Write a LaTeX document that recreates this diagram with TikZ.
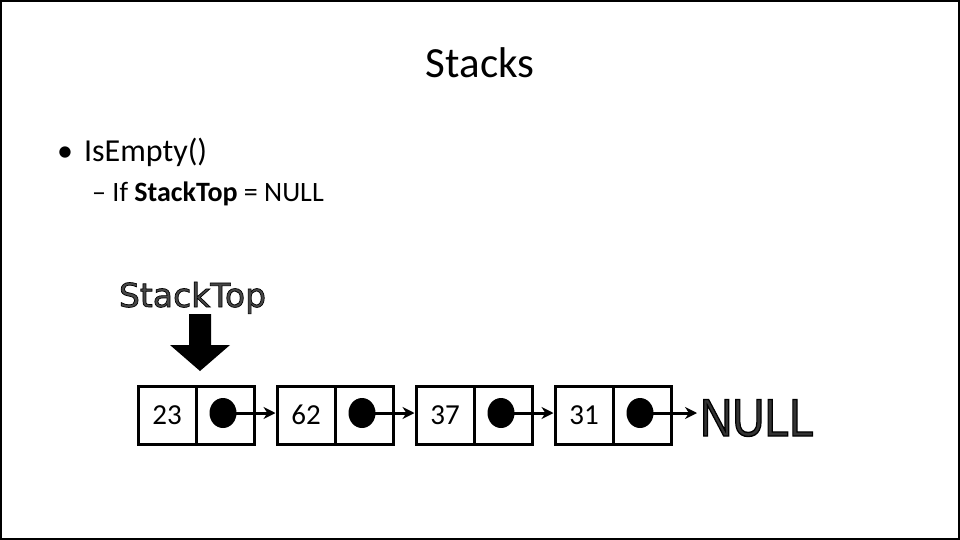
\documentclass[tikz,border=0pt]{standalone}
\usepackage{fontspec}
\setmainfont{Carlito}
\newfontfamily\djv{DejaVu Sans}
\newfontfamily\lib{Liberation Sans}
\usetikzlibrary{arrows.meta,shapes.geometric}
\newcommand\outlinetext[3]{{\special{pdf:literal direct q #2 G #1 w 2 Tr}#3\special{pdf:literal direct 0 Tr Q}}}
\tikzset{
  cellbox/.style={draw=black,line width=3pt,minimum width=58pt,minimum height=58pt,inner sep=0pt,text height=18.3pt,text depth=0pt,font=\fontsize{29}{34}\selectfont},
  dotmark/.style={fill=black,ellipse,minimum width=27pt,minimum height=30pt,inner sep=0pt},
  linkarrow/.style={line width=3pt,-{Stealth[length=12pt,width=12pt]}},
}
\begin{document}
\begin{tikzpicture}[x=1pt,y=-1pt]
\useasboundingbox (0,0) rectangle (960,540);
\draw[line width=2pt] (1,1) rectangle (959,539);
\node[font=\fontsize{43}{48}\selectfont,anchor=base] (title) at (480,78) {Stacks};
\node[font=\fontsize{32}{38}\selectfont,anchor=base west,inner sep=0pt] (b1) at (57,162) {•\hspace{11pt}IsEmpty()};
\node[font=\fontsize{28}{34}\selectfont,anchor=base west,inner sep=0pt] (b2) at (92,201) {– If \textbf{StackTop} = NULL};
% StackTop label
\node[font=\djv\fontsize{33}{38}\selectfont,anchor=base,inner sep=0pt,text=black!72] (st) at (192.5,307) {\outlinetext{0.7}{0}{StackTop}};
% block arrow
\fill[black] (189,314) -- (211,314) -- (211,345) -- (230,345) -- (200,371) -- (170,345) -- (189,345) -- cycle;
% list nodes
\foreach \i/\v in {0/23,1/62,2/37,3/31}{
  \node[cellbox] (d\i) at (167+139*\i,415) {\v};
  \node[cellbox] (p\i) at (225+139*\i,415) {};
  \node[dotmark] (c\i) at (223+139*\i,413) {};
}
\draw[linkarrow] (c0.center) -- (d1.west |- c0.center);
\draw[linkarrow] (c1.center) -- (d2.west |- c1.center);
\draw[linkarrow] (c2.center) -- (d3.west |- c2.center);
\coordinate (nullpt) at (697,413);
\draw[linkarrow] (c3.center) -- (nullpt);
% NULL outlined text
\node[font=\lib\fontsize{53}{60}\selectfont,xscale=0.84,inner sep=0pt,anchor=base west,text=black!80] (null) at (700,436) {\outlinetext{1.4}{0}{NULL}};
\end{tikzpicture}
\end{document}
